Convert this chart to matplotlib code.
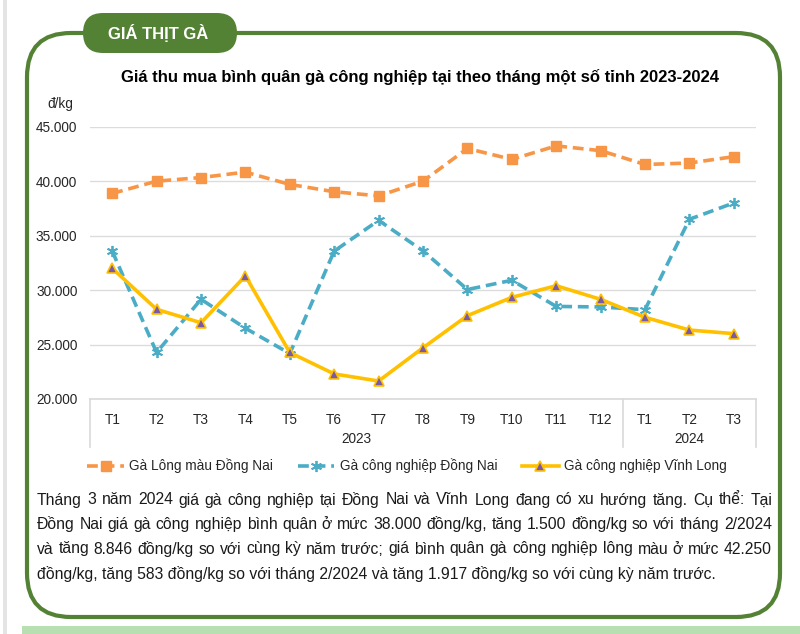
import matplotlib.pyplot as plt
import numpy as np
from matplotlib.lines import Line2D
from matplotlib.patches import FancyBboxPatch, Rectangle
from matplotlib.transforms import IdentityTransform

plt.rcParams['font.family'] = ['Liberation Sans', 'DejaVu Sans']

months = ['T1', 'T2', 'T3', 'T4', 'T5', 'T6', 'T7', 'T8', 'T9', 'T10', 'T11', 'T12', 'T1', 'T2', 'T3']
years = ['2023', '2024']
year_counts = [12, 3]

long_mau_dong_nai = [38.87, 40.0, 40.333, 40.83, 39.7, 39.03, 38.65, 40.0, 43.0, 42.0, 43.24, 42.8, 41.53, 41.667, 42.25]
cong_nghiep_dong_nai = [33.58, 24.27, 29.154, 26.5, 24.17, 33.58, 36.4, 33.6, 30.05, 30.9, 28.5, 28.45, 28.2, 36.5, 38.0]
cong_nghiep_vinh_long = [32.0, 28.23, 27.0, 31.3, 24.27, 22.3, 21.65, 24.7, 27.65, 29.33, 30.4, 29.15, 27.5, 26.33, 26.0]

series_names = ['Gà Lông màu Đồng Nai', 'Gà công nghiệp Đồng Nai', 'Gà công nghiệp Vĩnh Long']

y_ticks = [20000, 25000, 30000, 35000, 40000, 45000]

title = 'Giá thu mua bình quân gà công nghiệp tại theo tháng một số tỉnh 2023-2024'
paragraph = [
    'Tháng 3 năm 2024 giá gà công nghiệp tại Đồng Nai và Vĩnh Long đang có xu hướng tăng. Cụ thể: Tại',
    'Đồng Nai giá gà công nghiệp bình quân ở mức 38.000 đồng/kg, tăng 1.500 đồng/kg so với tháng 2/2024',
    'và tăng 8.846 đồng/kg so với cùng kỳ năm trước; giá bình quân gà công nghiệp lông màu ở mức 42.250',
    'đồng/kg, tăng 583 đồng/kg so với tháng 2/2024 và tăng 1.917 đồng/kg so với cùng kỳ năm trước.',
]

W, H = 800, 634
GREEN = '#548235'
TEXT = '#262626'
fig = plt.figure(figsize=(W / 100, H / 100), dpi=100)
fig.patch.set_facecolor('white')


def px(y):
    return H - y


# page decorations
fig.add_artist(Rectangle((3, 0), 4, H, transform=IdentityTransform(), color='#e4e4e4', lw=0))
fig.add_artist(Rectangle((22, 0), W - 22, 8, transform=IdentityTransform(), color='#b7dfb2', lw=0))
fig.add_artist(FancyBboxPatch((27, px(617)), 753, 584, boxstyle='round,pad=0,rounding_size=44',
                              transform=IdentityTransform(), fill=False, ec=GREEN, lw=3))
fig.add_artist(FancyBboxPatch((83, px(53)), 154, 40, boxstyle='round,pad=0,rounding_size=20',
                              transform=IdentityTransform(), fc=GREEN, ec=GREEN, lw=0))
fig.text(158 / W, 1 - 33 / H, 'GIÁ THỊT GÀ', color='white', fontsize=12, fontweight='bold',
         ha='center', va='center')

fig.text(420 / W, 1 - 77 / H, title, fontsize=12, fontweight='bold', ha='center', va='center')

# chart
ax = fig.add_axes([90 / W, 1 - 399 / H, 666 / W, (399 - 126.7) / H])
x = np.arange(len(months))
ax.plot(x, np.array(long_mau_dong_nai) * 1000, color='#f79646', ls=(0, (3, 1.6)), lw=2.6,
        marker='s', ms=7, label=series_names[0])
ax.plot(x, np.array(cong_nghiep_dong_nai) * 1000, color='#4bacc6', ls=(0, (3, 1.6)), lw=2.6,
        marker=(6, 2, 0), ms=8, mew=1.3, label=series_names[1])
ax.plot(x, np.array(cong_nghiep_vinh_long) * 1000, color='#ffc000', ls='-', lw=2.6,
        marker='^', ms=7, mfc='#7a5aa6', mec='#ffc000', mew=1.2, label=series_names[2])

ax.set_xlim(-0.5, len(months) - 0.5)
ax.set_ylim(20000, 45000)
ax.set_yticks(y_ticks)
ax.set_yticklabels([f'{v:,}'.replace(',', '.') for v in y_ticks], fontsize=9.8, color=TEXT)
ax.set_xticks(x)
ax.set_xticklabels(months, fontsize=9.8, color=TEXT)
ax.tick_params(axis='both', length=0)
ax.tick_params(axis='y', pad=9)
ax.tick_params(axis='x', pad=10)
ax.grid(axis='y', color='#dcdcdc', lw=1)
ax.set_axisbelow(True)
for s in ['top', 'right', 'left']:
    ax.spines[s].set_visible(False)
ax.spines['bottom'].set_color('#d9d9d9')
ax.spines['bottom'].set_linewidth(1.2)

# category year box
box_h = 48 / ((399 - 126.7))
tr = ax.get_xaxis_transform()
edges = np.concatenate([[0], np.cumsum(year_counts)]) - 0.5
for e in edges:
    ax.add_line(Line2D([e, e], [0, -box_h], transform=tr, color='#d9d9d9', lw=1.2, clip_on=False))
for i, yr in enumerate(years):
    ax.text((edges[i] + edges[i + 1]) / 2, -40 / (399 - 126.7), yr, transform=tr,
            ha='center', va='center', fontsize=9.8, color=TEXT)

fig.text(60 / W, 1 - 104 / H, 'đ/kg', fontsize=9.8, ha='center', va='center', color=TEXT)

leg = fig.legend(loc='center', bbox_to_anchor=(407 / W, 1 - 466 / H), ncol=3, frameon=False,
                 fontsize=9.8, handlelength=2.7, columnspacing=1.8, handletextpad=0.4)
for t in leg.get_texts():
    t.set_color(TEXT)

# paragraph, first three lines justified
renderer = fig.canvas.get_renderer()
left, right = 37, 772
for i, line in enumerate(paragraph):
    y = 1 - (500 + i * 24.5) / H
    if i == len(paragraph) - 1:
        fig.text(left / W, y, line, fontsize=11.3, ha='left', va='center', color='#1a1a1a')
        continue
    words = line.split(' ')
    texts = [fig.text(0, y, w, fontsize=11.3, ha='left', va='center', color='#1a1a1a') for w in words]
    widths = [t.get_window_extent(renderer).width for t in texts]
    gap = (right - left - sum(widths)) / (len(words) - 1)
    pos = left
    for t, wd in zip(texts, widths):
        t.set_x(pos / W)
        pos += wd + gap

fig.savefig('out.png', dpi=100)
